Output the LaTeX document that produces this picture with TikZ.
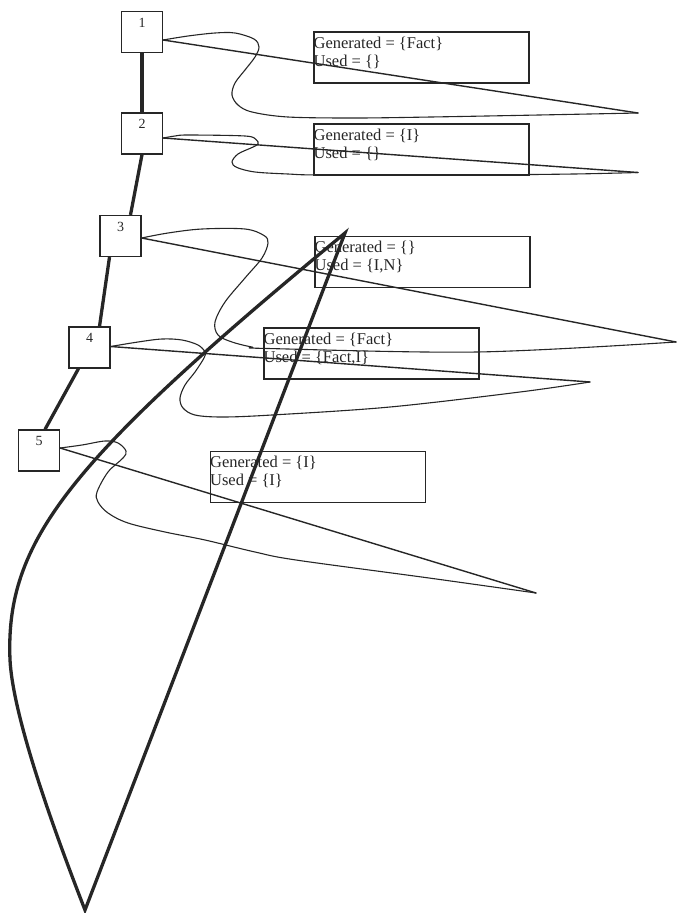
\documentclass[tikz,border=0pt]{standalone}
\usepackage{fontspec}
\setmainfont{Liberation Serif}
\definecolor{ink}{RGB}{38,38,38}
\tikzset{
  numbox/.style={draw=ink, line width=1.2pt, minimum width=41pt, minimum height=41pt, inner sep=0pt},
  numtext/.style={font=\fontsize{14}{14}\selectfont, text=ink, anchor=north, inner sep=0pt, yshift=-7pt},
  infobox/.style={draw=ink, line width=1.2pt, minimum width=215pt, minimum height=51pt, inner sep=0pt},
  infotext/.style={font=\fontsize{16.5}{18}\selectfont, text=ink, inner sep=0pt, anchor=base west},
  wiggle/.style={draw=ink, line width=1.1pt, line join=round, line cap=round},
  ray/.style={draw=ink, line width=1.4pt, line cap=round},
  chainline/.style={draw=ink, line width=3.3pt},
  bigloop/.style={draw=ink, line width=3.3pt, line join=miter},
}
\begin{document}
\begin{tikzpicture}[x=1pt, y=-1pt]
\useasboundingbox (0,0) rectangle (677,913);

% numbered boxes
\node[numbox, label={[numtext]north:1}] (b1) at (142,32) {};
\node[numbox, label={[numtext]north:2}] (b2) at (142,133.5) {};
\node[numbox, label={[numtext]north:3}] (b3) at (120.5,236) {};
\node[numbox, label={[numtext]north:4}] (b4) at (89.5,347.5) {};
\node[numbox, label={[numtext]north:5}] (b5) at (39,450.5) {};

% info boxes
\node[infobox] (t1) at (421.5,57.5) {};
\node[infobox] (t2) at (421.5,149.5) {};
\node[infobox] (t3) at (422.5,262) {};
\node[infobox] (t4) at (371.5,353.5) {};
\node[infobox] (t5) at (318,477) {};

\node[infotext] (g1) at ([yshift=-16.7pt]t1.north west) {Generated = \{Fact\}};
\node[infotext] (u1) at ([yshift=-34.7pt]t1.north west) {Used = \{\}};
\node[infotext] (g2) at ([yshift=-16.7pt]t2.north west) {Generated = \{I\}};
\node[infotext] (u2) at ([yshift=-34.7pt]t2.north west) {Used = \{\}};
\node[infotext] (g3) at ([yshift=-16.7pt]t3.north west) {Generated = \{\}};
\node[infotext] (u3) at ([yshift=-34.7pt]t3.north west) {Used = \{I,N\}};
\node[infotext] (g4) at ([yshift=-16.7pt]t4.north west) {Generated = \{Fact\}};
\node[infotext] (u4) at ([yshift=-34.7pt]t4.north west) {Used = \{Fact,I\}};
\node[infotext] (g5) at ([yshift=-16.7pt]t5.north west) {Generated = \{I\}};
\node[infotext] (u5) at ([yshift=-34.7pt]t5.north west) {Used = \{I\}};

% chain between numbered boxes
\draw[chainline] (b1.south) -- (b2.north);
\draw[chainline] (b2.south) -- ([xshift=10pt]b3.north);
\draw[chainline] ([xshift=-11pt]b3.south) -- ([xshift=10pt]b4.north);
\draw[chainline] ([xshift=-11pt]b4.south) -- ([xshift=6pt]b5.north);

% start points and tips
\coordinate (s1) at ([yshift=-8pt]b1.east);
\coordinate (s2) at ([yshift=-4.5pt]b2.east);
\coordinate (s3) at ([yshift=-2pt]b3.east);
\coordinate (s4) at ([yshift=1pt]b4.east);
\coordinate (s5) at ([yshift=2.5pt]b5.east);
\coordinate (tip1) at (638,113);
\coordinate (tip2) at (638,172.5);
\coordinate (tip3) at (676,342);
\coordinate (tip4) at (590,382);
\coordinate (tip5) at (536,593);

% straight rays
\draw[ray] (s1) -- (tip1);
\draw[ray] (s2) -- (tip2);
\draw[ray] (s3) -- (tip3);
\draw[ray] (s4) -- (tip4);
\draw[ray] (s5) -- (tip5);

% wiggly returns
\draw[wiggle] plot[smooth, tension=0.55] coordinates {(s1) (188,36) (215,33) (235,33) (254,39) (259,47) (255,57) (245,70) (235,83) (232,95) (238,105) (252,112) (288,117) (355,118) (431,117) (539,115) (tip1)};
\draw[wiggle] plot[smooth, tension=0.55] coordinates {(s2) (175,136) (188,135) (245,136) (256,139.5) (258,144) (252,147.5) (238,154) (232,162) (237,167.5) (255,172) (288,174) (322,175) (467,175) (574,174) (tip2)};
\draw[wiggle] plot[smooth, tension=0.55] coordinates {(s3) (168,233) (202,229) (245,229) (264,235.5) (268,243) (262,258) (245,278) (225,302) (215,322) (218,335) (232,342) (252,347) (268,348.5) (477,352) (tip3)};
\draw[wiggle] plot[smooth, tension=0.55] coordinates {(s4) (138,342) (162,339) (182,340) (198,345) (205,352) (204,358) (195,372) (185,385) (180,398) (183,408) (195,415) (222,417) (272,415) (390,407) (520,392) (tip4)};
\draw[wiggle] plot[smooth, tension=0.55] coordinates {(s5) (82,445) (105,441) (118,443) (126,451) (123,458) (108,472) (97,492) (98,502) (108,513) (128,523) (165,532) (205,540) (255,552) (296,560) (429,578) (tip5)};

% big thick loop
\coordinate (apexT) at (345,233);
\coordinate (apexB) at (85,910);
\coordinate (side) at (10,660);
\draw[bigloop] (apexT) .. controls (70,460) and (5,540) .. (side)
  .. controls (13,715) and (50,820) .. (apexB) -- cycle;
\end{tikzpicture}
\end{document}
